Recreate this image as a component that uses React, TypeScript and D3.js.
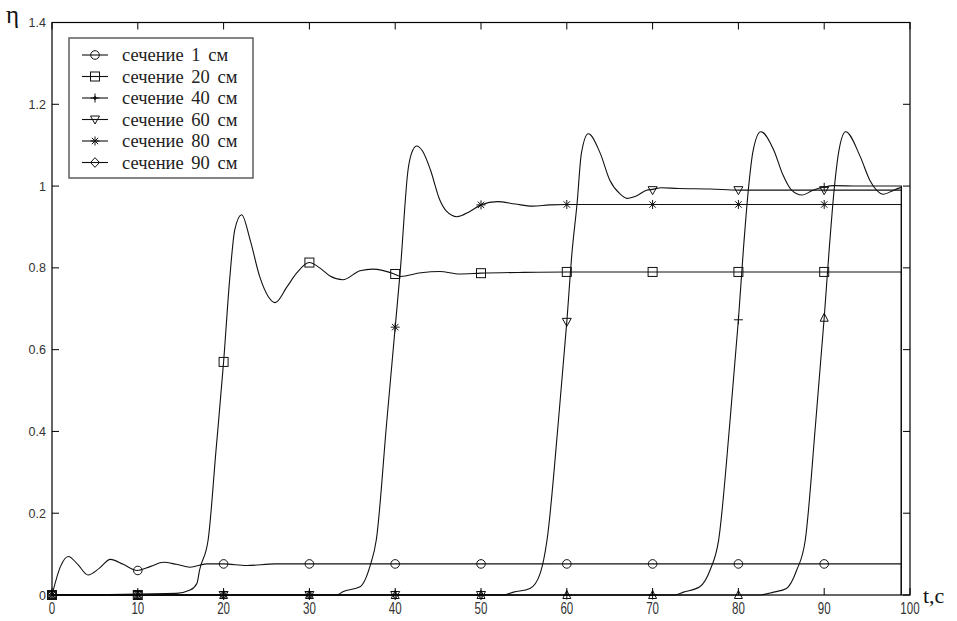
import React from "react";
import * as d3 from "d3";

// ---- data ----
const seriesNames = ["сечение 1 см", "сечение 20 см", "сечение 40 см", "сечение 60 см", "сечение 80 см", "сечение 90 см"];

const t1 = [0, 1.0, 1.9, 3.0, 4.2, 5.5, 6.8, 8.3, 9.9, 11.5, 13.0, 14.5, 16.1, 18.0, 20, 22.7, 26, 30, 40, 50, 60, 70, 80, 90, 99];
const v1 = [0, 0.07, 0.094, 0.075, 0.049, 0.065, 0.087, 0.075, 0.06, 0.07, 0.08, 0.075, 0.068, 0.076, 0.076, 0.072, 0.076, 0.076, 0.076, 0.076, 0.076, 0.076, 0.076, 0.076, 0.076];

const t2 = [0, 14.5, 16.1, 16.9, 17.2, 18.2, 19.1, 20, 20.7, 21.3, 22.1, 23.1, 24.2, 25.2, 26, 27.4, 28.5, 30, 31.2, 32.4, 33.9, 35.9, 37.4, 39.9, 40.6, 43, 45.2, 47.5, 50, 55, 60, 99];
const v2 = [0, 0.004, 0.012, 0.029, 0.061, 0.135, 0.35, 0.57, 0.77, 0.893, 0.93, 0.868, 0.779, 0.73, 0.715, 0.754, 0.787, 0.813, 0.8, 0.78, 0.771, 0.793, 0.797, 0.785, 0.779, 0.788, 0.791, 0.785, 0.787, 0.789, 0.79, 0.79];

const t3 = [0, 33.2, 33.9, 35.9, 37.1, 37.8, 39, 40, 40.6, 41.5, 41.9, 42.5, 43.2, 44.1, 45.2, 46, 47.2, 48.7, 50, 51.9, 54, 56, 58, 60, 99];
const v3 = [0, 0, 0.008, 0.02, 0.073, 0.135, 0.42, 0.655, 0.795, 1.04, 1.08, 1.098, 1.085, 1.04, 0.966, 0.938, 0.925, 0.938, 0.954, 0.962, 0.956, 0.951, 0.954, 0.955, 0.955];

const t4 = [0, 52.6, 53.8, 55.7, 56.9, 57.7, 59, 60, 60.6, 61.2, 61.7, 62.5, 63.9, 65, 66.2, 67, 68.1, 69.3, 70, 71, 73, 76.7, 80, 99];
const v4 = [0, 0, 0.007, 0.016, 0.053, 0.135, 0.42, 0.668, 0.836, 0.958, 1.08, 1.128, 1.08, 1.015, 0.981, 0.97, 0.976, 0.99, 0.992, 0.996, 0.994, 0.993, 0.99, 0.99];

const t5 = [0, 72.6, 73.6, 75.5, 76.7, 77.7, 79, 80, 80.6, 81.2, 81.7, 82.6, 84.1, 85.2, 86.2, 87.4, 88.7, 89.9, 91.1, 94, 99];
const v5 = [0, 0, 0.007, 0.02, 0.061, 0.135, 0.42, 0.673, 0.85, 1.0, 1.085, 1.133, 1.089, 1.027, 0.99, 0.978, 0.99, 0.997, 1.001, 1.0, 1.0];

const t6 = [0, 82.5, 84.1, 85.6, 86.8, 87.8, 89, 90, 90.6, 91.2, 91.7, 92.5, 94.2, 95.3, 96.1, 96.9, 98.1, 99];
const v6 = [0, 0, 0.007, 0.016, 0.061, 0.135, 0.42, 0.678, 0.85, 1.0, 1.085, 1.133, 1.072, 1.015, 0.99, 0.98, 0.99, 0.997];

const markerT = [0, 10, 20, 30, 40, 50, 60, 70, 80, 90];
const m1 = [0, 0.06, 0.076, 0.076, 0.076, 0.076, 0.076, 0.076, 0.076, 0.076];
const m2 = [0, 0, 0.57, 0.813, 0.785, 0.787, 0.79, 0.79, 0.79, 0.79];
const m3 = [0, 0, 0, 0, 0.655, 0.954, 0.955, 0.955, 0.955, 0.955];
const m4 = [0, 0, 0, 0, 0, 0, 0.668, 0.99, 0.99, 0.99];
const m5 = [0, 0, 0, 0, 0, 0, 0, 0, 0.673, 0.997];
const m6 = [0, 0, 0, 0, 0, 0, 0, 0, 0, 0.678];

const plotMarkers = ["circle", "square", "asterisk", "triDown", "plus", "triUp"];
const legendMarkers = ["circle", "square", "plusDot", "triDown", "asterisk", "diamond"];

const xTicks = [0, 10, 20, 30, 40, 50, 60, 70, 80, 90, 100];
const yTicks = [0, 0.2, 0.4, 0.6, 0.8, 1, 1.2, 1.4];
const yTickLabels = ["0", "0.2", "0.4", "0.6", "0.8", "1", "1.2", "1.4"];
const tEnd = 99;

const W = 957, H = 621;
const L = 52, R = 910, T = 22.5, B = 595;

const x = d3.scaleLinear().domain([0, 100]).range([L, R]);
const y = d3.scaleLinear().domain([0, 1.4]).range([B, T]);

const INK = "#111";

function Marker({ type, cx, cy }: { type: string; cx: number; cy: number }) {
  const s = { fill: "none", stroke: INK, strokeWidth: 1 } as any;
  switch (type) {
    case "circle":
      return <circle cx={cx} cy={cy} r={4.3} {...s} />;
    case "square":
      return <rect x={cx - 4.5} y={cy - 4.5} width={9} height={9} {...s} />;
    case "triDown":
      return <polygon points={`${cx - 4.5},${cy - 3.5} ${cx + 4.5},${cy - 3.5} ${cx},${cy + 4.5}`} {...s} />;
    case "triUp":
      return <polygon points={`${cx - 4},${cy + 3.5} ${cx + 4},${cy + 3.5} ${cx},${cy - 4.5}`} {...s} />;
    case "diamond":
      return <polygon points={`${cx},${cy - 4.8} ${cx + 4.5},${cy} ${cx},${cy + 4.8} ${cx - 4.5},${cy}`} {...s} />;
    case "plus":
      return (
        <g {...s}>
          <line x1={cx - 4.5} y1={cy} x2={cx + 4.5} y2={cy} />
          <line x1={cx} y1={cy - 4.5} x2={cx} y2={cy + 4.5} />
        </g>
      );
    case "plusDot":
      return (
        <g {...s}>
          <line x1={cx - 4.5} y1={cy} x2={cx + 4.5} y2={cy} />
          <line x1={cx} y1={cy - 4.5} x2={cx} y2={cy + 4.5} />
          <circle cx={cx} cy={cy} r={1.3} fill={INK} />
        </g>
      );
    case "asterisk":
    default:
      return (
        <g {...s}>
          <line x1={cx - 4.5} y1={cy} x2={cx + 4.5} y2={cy} />
          <line x1={cx} y1={cy - 4.5} x2={cx} y2={cy + 4.5} />
          <line x1={cx - 3.2} y1={cy - 3.2} x2={cx + 3.2} y2={cy + 3.2} />
          <line x1={cx - 3.2} y1={cy + 3.2} x2={cx + 3.2} y2={cy - 3.2} />
        </g>
      );
  }
}

export default function App() {
  const times = [t1, t2, t3, t4, t5, t6];
  const vals = [v1, v2, v3, v4, v5, v6];
  const marks = [m1, m2, m3, m4, m5, m6];

  const line = d3
    .line<[number, number]>()
    .x((d) => x(d[0]))
    .y((d) => y(d[1]))
    .curve(d3.curveMonotoneX);

  const paths = times.map((ts, i) => {
    const pts = ts.map((t, j) => [t, vals[i][j]] as [number, number]);
    return (line(pts) || "") + `L${x(tEnd)},${y(0)}`;
  });

  const tick = 7;
  const legendX = 69, legendY = 38, legendW = 184, legendH = 140;
  const rowY = (i: number) => 55 + i * 21.5;

  return (
    <svg width={W} height={H} style={{ position: "absolute", left: 0, top: 0, background: "#fff" }}>
      <rect x={0} y={0} width={W} height={H} fill="#fff" />
      {/* curves */}
      {paths.map((d, i) => (
        <path key={"p" + i} d={d} fill="none" stroke={INK} strokeWidth={1.1} />
      ))}
      {/* markers */}
      {marks.map((ms, i) =>
        ms.map((v, j) => (
          <Marker key={`m${i}-${j}`} type={plotMarkers[i]} cx={x(markerT[j])} cy={y(v)} />
        ))
      )}
      {/* axes box */}
      <rect x={L} y={T} width={R - L} height={B - T} fill="none" stroke="#000" strokeWidth={1.2} />
      {xTicks.map((t) => (
        <g key={"xt" + t} stroke="#000" strokeWidth={1}>
          <line x1={x(t)} y1={B} x2={x(t)} y2={B - tick} />
          <line x1={x(t)} y1={T} x2={x(t)} y2={T + tick} />
        </g>
      ))}
      {yTicks.map((v) => (
        <g key={"yt" + v} stroke="#000" strokeWidth={1}>
          <line x1={L} y1={y(v)} x2={L + tick} y2={y(v)} />
          <line x1={R} y1={y(v)} x2={R - tick} y2={y(v)} />
        </g>
      ))}
      {xTicks.map((t) => (
        <text
          key={"xl" + t}
          transform={`translate(${x(t)},614) scale(0.68,1)`}
          textAnchor="middle"
          fontFamily="'Liberation Sans', Arial, sans-serif"
          fontSize={17}
          fill="#333"
        >
          {String(t)}
        </text>
      ))}
      {yTicks.map((v, i) => (
        <text
          key={"yl" + v}
          x={46}
          y={y(v) + 4.5}
          textAnchor="end"
          fontFamily="'Liberation Sans', Arial, sans-serif"
          fontSize={12.5}
          fill="#333"
        >
          {yTickLabels[i]}
        </text>
      ))}
      {/* axis titles */}
      <text x={6} y={23} fontFamily="'Liberation Serif', 'Times New Roman', serif" fontSize={25} fill="#111">
        η
      </text>
      <text x={923} y={603} fontFamily="'Liberation Serif', 'Times New Roman', serif" fontSize={22} fill="#111">
        t,c
      </text>
      {/* legend */}
      <rect x={legendX} y={legendY} width={legendW} height={legendH} fill="#fff" stroke="#666" strokeWidth={1.6} />
      {seriesNames.map((name, i) => (
        <g key={"lg" + i}>
          <line x1={82} y1={rowY(i)} x2={108} y2={rowY(i)} stroke={INK} strokeWidth={1.1} />
          <Marker type={legendMarkers[i]} cx={95} cy={rowY(i)} />
          <text
            x={122}
            y={rowY(i) + 6}
            fontFamily="'Liberation Serif', 'Times New Roman', serif"
            fontSize={18.5}
            wordSpacing={3}
            fill="#222"
          >
            {name}
          </text>
        </g>
      ))}
    </svg>
  );
}
